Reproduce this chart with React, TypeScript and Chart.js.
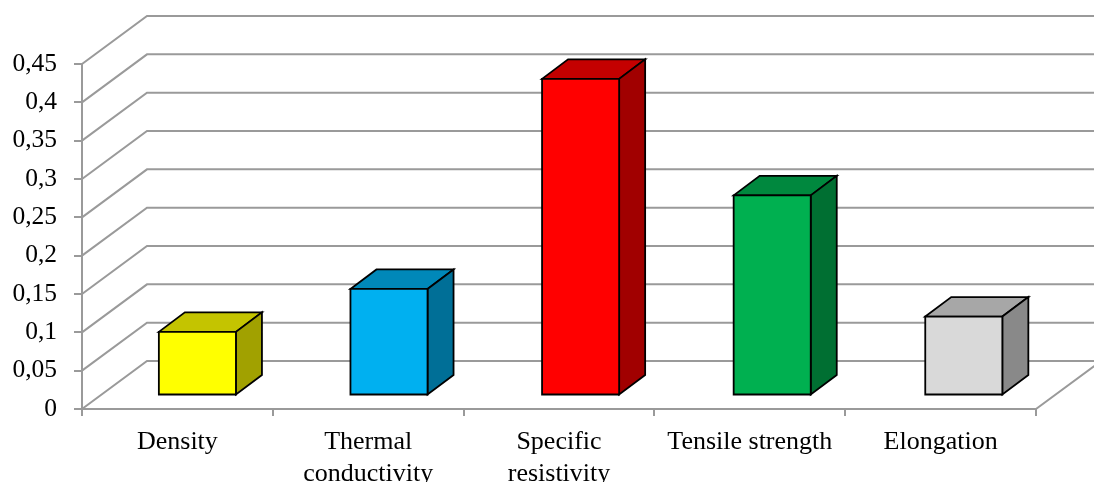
import React, { useEffect, useRef } from 'react';
import { Chart, registerables } from 'chart.js';

Chart.register(...registerables);

// ---- data ----
const CATEGORIES: string[][] = [
  ['Density'],
  ['Thermal', 'conductivity'],
  ['Specific', 'resistivity'],
  ['Tensile strength'],
  ['Elongation'],
];
const VALUES: number[] = [0.083, 0.139, 0.413, 0.261, 0.103];
const FRONT_COLORS: string[] = ['#FFFF00', '#00B0F0', '#FF0000', '#00B050', '#D9D9D9'];
const Y_MIN = 0;
const Y_MAX = 0.45;
const Y_STEP = 0.05;

// ---- style ----
const W = 1094;
const H = 482;
const WALL_DX = 65;
const WALL_DY = -48;
const BAR_DX = 20;
const BAR_DY = -13.5;
const SIDE_DX = 26;
const SIDE_DY = -19.5;
const GRID = '#9a9a9a';
const FONT = '"Liberation Serif", "Times New Roman", serif';

function shade(hex: string, f: number): string {
  const n = parseInt(hex.slice(1), 16);
  const r = Math.round(((n >> 16) & 255) * f);
  const g = Math.round(((n >> 8) & 255) * f);
  const b = Math.round((n & 255) * f);
  return `rgb(${r},${g},${b})`;
}

function poly(ctx: CanvasRenderingContext2D, pts: number[][], fill: string) {
  ctx.beginPath();
  ctx.moveTo(pts[0][0], pts[0][1]);
  for (let i = 1; i < pts.length; i++) ctx.lineTo(pts[i][0], pts[i][1]);
  ctx.closePath();
  ctx.fillStyle = fill;
  ctx.fill();
  ctx.stroke();
}

const threeD = {
  id: 'threeD',
  beforeDatasetsDraw(chart: any) {
    const { ctx, chartArea } = chart;
    const { left, right, bottom } = chartArea;
    const y = chart.scales.y;
    ctx.save();
    ctx.strokeStyle = GRID;
    ctx.lineWidth = 2;
    ctx.beginPath();
    y.ticks.forEach((t: any) => {
      const py = y.getPixelForValue(t.value);
      ctx.moveTo(left, py);
      ctx.lineTo(left + WALL_DX, py + WALL_DY);
      ctx.lineTo(right + WALL_DX + 20, py + WALL_DY);
    });
    ctx.moveTo(right, bottom);
    ctx.lineTo(right + WALL_DX, bottom + WALL_DY);
    ctx.stroke();
    ctx.restore();
  },
  afterDatasetsDraw(chart: any) {
    const { ctx } = chart;
    const meta = chart.getDatasetMeta(0);
    ctx.save();
    ctx.strokeStyle = '#000';
    ctx.lineWidth = 1.8;
    ctx.lineJoin = 'miter';
    meta.data.forEach((bar: any, i: number) => {
      const { x, y, base, width } = bar.getProps(['x', 'y', 'base', 'width'], true);
      const c = FRONT_COLORS[i];
      const l = x - width / 2 + BAR_DX + i * 0.8;
      const r = x + width / 2 + BAR_DX + i * 0.8;
      const t = y + BAR_DY;
      const b = base + BAR_DY;
      poly(ctx, [[l, t], [l + SIDE_DX, t + SIDE_DY], [r + SIDE_DX, t + SIDE_DY], [r, t]], shade(c, 0.77));
      poly(ctx, [[r, t], [r + SIDE_DX, t + SIDE_DY], [r + SIDE_DX, b + SIDE_DY], [r, b]], shade(c, 0.63));
      poly(ctx, [[l, t], [r, t], [r, b], [l, b]], c);
    });
    ctx.restore();
  },
};

export default function App() {
  const ref = useRef<HTMLCanvasElement | null>(null);
  useEffect(() => {
    if (!ref.current) return;
    const chart = new Chart(ref.current, {
      type: 'bar',
      data: {
        labels: CATEGORIES,
        datasets: [
          {
            data: VALUES,
            backgroundColor: 'rgba(0,0,0,0)',
            borderWidth: 0,
            barPercentage: 0.404,
            categoryPercentage: 1,
          },
        ],
      },
      options: {
        responsive: false,
        animation: false,
        layout: { padding: { left: 0, right: 58, top: 64, bottom: 0 } },
        plugins: { legend: { display: false }, tooltip: { enabled: false } },
        scales: {
          x: {
            offset: true,
            grid: {
              display: true,
              drawOnChartArea: false,
              drawTicks: true,
              tickLength: 7,
              color: GRID,
              lineWidth: 2,
              offset: true,
            },
            border: { color: GRID, width: 2 },
            ticks: {
              color: '#000',
              font: { family: FONT, size: 26 },
              padding: 11,
              maxRotation: 0,
              autoSkip: false,
            },
            afterFit: (s: any) => {
              s.height = 73;
            },
          },
          y: {
            min: Y_MIN,
            max: Y_MAX,
            grid: {
              drawOnChartArea: false,
              tickLength: 8,
              color: GRID,
              lineWidth: 2,
            },
            border: { color: GRID, width: 2 },
            ticks: {
              stepSize: Y_STEP,
              color: '#000',
              font: { family: FONT, size: 25.5 },
              padding: 17,
              callback: (v: any) => String(Math.round(Number(v) * 100) / 100).replace('.', ','),
            },
            afterFit: (s: any) => {
              s.width = 82;
            },
          },
        },
      },
      plugins: [threeD],
    } as any);
    return () => chart.destroy();
  }, []);
  return (
    <div style={{ position: 'absolute', left: 0, top: 0, width: W, height: H, background: '#fff' }}>
      <canvas ref={ref} width={W} height={H} style={{ width: W, height: H, display: 'block' }} />
    </div>
  );
}
